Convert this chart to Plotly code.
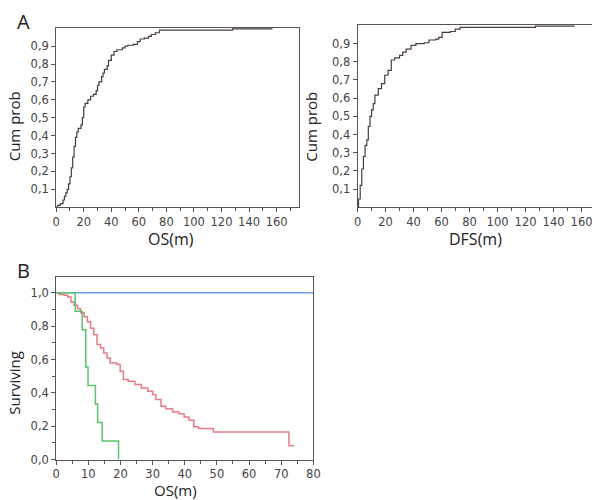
import plotly.graph_objects as go

# Panel A left: cumulative probability of OS (months)
os_time = [0, 1, 3, 5, 6, 7, 8, 9, 10, 11, 12, 13, 14, 15, 16, 18, 19, 20, 21, 23, 25, 27, 29, 30, 31,
           33, 34, 35, 37, 38, 40, 42, 44, 48, 50, 52, 56, 59, 61, 64, 67, 69, 72, 75, 128, 157]
os_cum = [0.0, 0.01, 0.02, 0.04, 0.06, 0.08, 0.10, 0.13, 0.17, 0.22, 0.28, 0.34, 0.39, 0.42, 0.44, 0.46,
          0.50, 0.56, 0.58, 0.60, 0.62, 0.63, 0.65, 0.68, 0.70, 0.73, 0.75, 0.77, 0.79, 0.82, 0.85, 0.87,
          0.88, 0.89, 0.90, 0.905, 0.91, 0.925, 0.94, 0.945, 0.955, 0.965, 0.975, 0.99, 0.997, 0.997]

# Panel A right: cumulative probability of DFS (months)
dfs_time = [0, 0.7, 1.9, 3, 4.2, 5.4, 6.6, 7.7, 8.9, 10, 11.2, 12.4, 14.8, 17.1, 19.4, 21.8, 24.1, 26.5,
            30, 32.3, 34.7, 38.2, 41.7, 47.6, 51, 55.7, 58, 60.4, 66.3, 69.8, 73.3, 127, 155]
dfs_cum = [0.0, 0.045, 0.12, 0.21, 0.28, 0.34, 0.37, 0.445, 0.50, 0.535, 0.57, 0.617, 0.653, 0.68, 0.726,
           0.753, 0.81, 0.822, 0.835, 0.853, 0.87, 0.89, 0.90, 0.905, 0.92, 0.925, 0.935, 0.962, 0.967,
           0.98, 0.99, 0.997, 0.997]

# Panel B: Kaplan-Meier survival curves (OS months)
blue_time = [0, 80]
blue_surv = [1.0, 1.0]

red_time = [0, 1, 2.5, 3.6, 4.6, 5.6, 6.6, 7.6, 8.7, 9.7, 10.7, 11.7, 12.7, 13.8, 14.8, 15.8, 16.8, 18.9,
            19.9, 20.9, 22.4, 24.5, 26.5, 28.5, 30, 31, 32.6, 34.1, 36.2, 38.2, 39.8, 41.3, 42.8, 44.3,
            48.9, 72.4, 74]
red_surv = [1.0, 0.99, 0.985, 0.975, 0.945, 0.925, 0.905, 0.88, 0.856, 0.827, 0.787, 0.748, 0.69, 0.67,
            0.64, 0.61, 0.58, 0.57, 0.53, 0.48, 0.47, 0.45, 0.43, 0.41, 0.39, 0.36, 0.32, 0.305, 0.285,
            0.275, 0.256, 0.236, 0.197, 0.187, 0.165, 0.083, 0.083]

green_time = [0, 5.9, 8.1, 9.2, 9.9, 12.2, 12.9, 14.3, 19.4]
green_surv = [1.0, 0.889, 0.778, 0.556, 0.444, 0.333, 0.222, 0.111, 0.0]

ytick_a = [0.1, 0.2, 0.3, 0.4, 0.5, 0.6, 0.7, 0.8, 0.9]
xtick_a = [0, 20, 40, 60, 80, 100, 120, 140, 160]
ytick_b = [0.0, 0.2, 0.4, 0.6, 0.8, 1.0]
xtick_b = [0, 10, 20, 30, 40, 50, 60, 70, 80]

W, H = 600, 500
def dx(a, b):
    return [a / W, b / W]
def dy(top, bottom):
    return [1 - bottom / H, 1 - top / H]

fig = go.Figure()
line_a = dict(color="#4a3c3c", width=1.2, shape="hv")
fig.add_trace(go.Scatter(x=os_time, y=os_cum, mode="lines", line=line_a, xaxis="x", yaxis="y", showlegend=False))
fig.add_trace(go.Scatter(x=dfs_time, y=dfs_cum, mode="lines", line=line_a, xaxis="x2", yaxis="y2", showlegend=False))
fig.add_trace(go.Scatter(x=blue_time, y=blue_surv, mode="lines", line=dict(color="#6e9de0", width=1.5, shape="hv"),
                         xaxis="x3", yaxis="y3", showlegend=False))
fig.add_trace(go.Scatter(x=red_time, y=red_surv, mode="lines", line=dict(color="#eb7a88", width=1.5, shape="hv"),
                         xaxis="x3", yaxis="y3", showlegend=False))
fig.add_trace(go.Scatter(x=green_time, y=green_surv, mode="lines", line=dict(color="#5cc46c", width=1.5, shape="hv"),
                         xaxis="x3", yaxis="y3", showlegend=False))

tickfont = dict(family="DejaVu Sans", size=11.5, color="#444444")
common = dict(showline=True, linecolor="#555555", linewidth=1, mirror=True, ticks="outside", ticklen=4,
              tickcolor="#555555", showgrid=False, zeroline=False, tickfont=tickfont, fixedrange=True)

fig.update_layout(
    width=W, height=H, margin=dict(l=0, r=0, t=0, b=0),
    paper_bgcolor="white", plot_bgcolor="white", separators=", ",
    xaxis=dict(domain=dx(45, 292), range=[0, 176], tickvals=xtick_a, anchor="y",
               minor=dict(dtick=10, tick0=0, ticks="outside", ticklen=3, tickcolor="#555555"), **common),
    yaxis=dict(domain=dy(20, 202), range=[0, 1.003], tickvals=ytick_a, tickformat=".1f", anchor="x", **common),
    xaxis2=dict(domain=dx(352, 598), range=[0, 172.5], tickvals=xtick_a, anchor="y2",
                minor=dict(dtick=10, tick0=0, ticks="outside", ticklen=3, tickcolor="#555555"), **common),
    yaxis2=dict(domain=dy(17, 202), range=[0, 1.004], tickvals=ytick_a, tickformat=".1f", anchor="x2", **common),
    xaxis3=dict(domain=dx(45, 307), range=[0, 80], tickvals=xtick_b, anchor="y3",
                minor=dict(dtick=5, tick0=0, ticks="outside", ticklen=3, tickcolor="#555555"), **common),
    yaxis3=dict(domain=dy(273, 458), range=[0, 1.094], tickvals=ytick_b, tickformat=".1f", anchor="x3",
                minor=dict(dtick=0.1, tick0=0, ticks="outside", ticklen=3, tickcolor="#555555"), **common),
)

def ann(text, x, y, size, angle=0, xanchor="center", family="Open Sans"):
    fig.add_annotation(text=text, x=x / W, y=1 - y / H, xref="paper", yref="paper", showarrow=False,
                       xanchor=xanchor, yanchor="middle", textangle=angle,
                       font=dict(family=family, size=size, color="#222222"))

ann("A", 12, 14, 20)
ann("B", 12, 266, 20)
ann("Cum prob", 2, 120, 15, -90)
ann("OS(m)", 162, 234, 16)
ann("Cum prob", 305, 120, 15, -90)
ann("DFS(m)", 472, 234, 16)
ann("Surviving", 2, 380, 15, -90)
ann("OS(m)", 167, 489, 15)

fig.write_html("out.html")
